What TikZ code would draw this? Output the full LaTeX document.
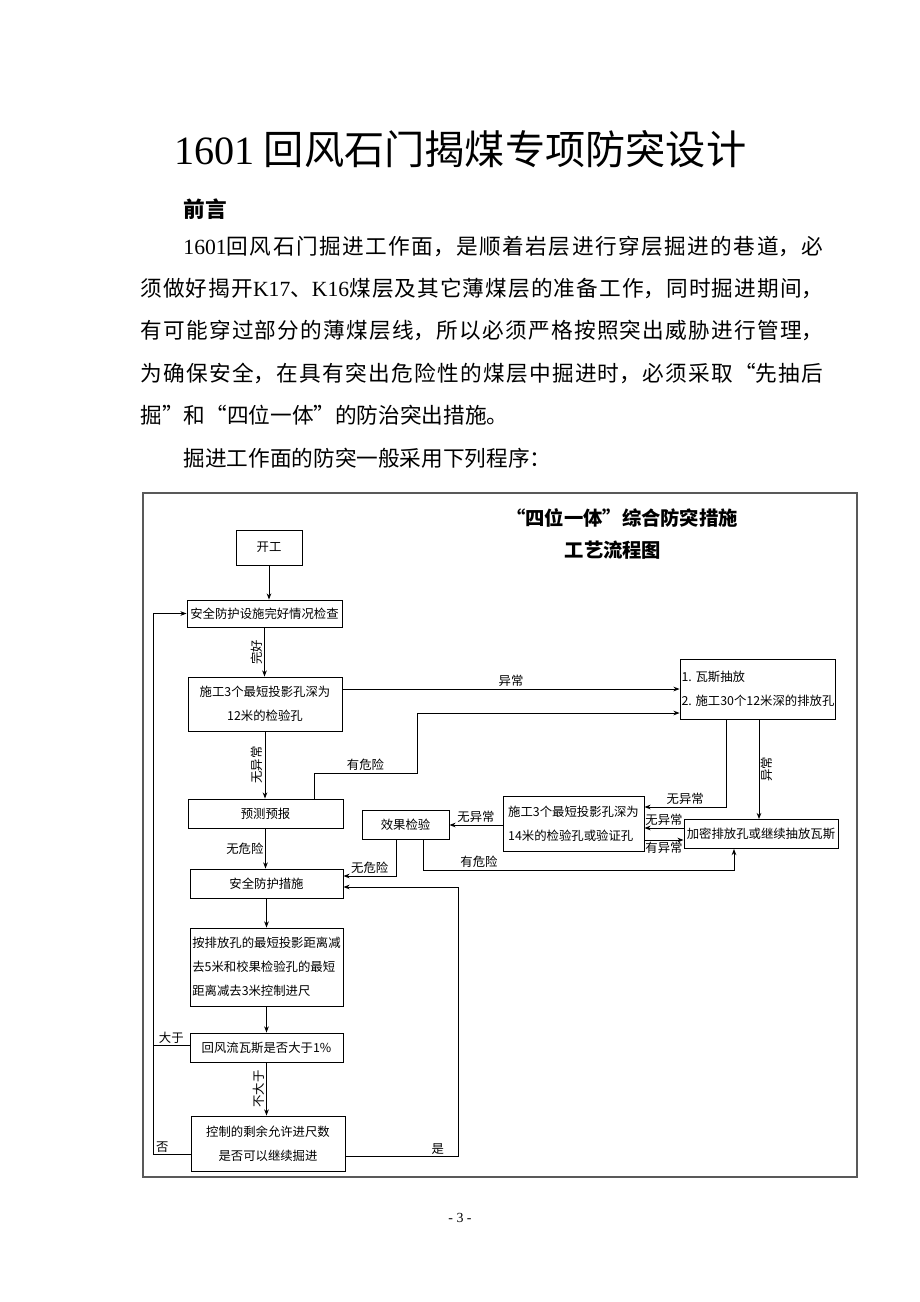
\documentclass[tikz,border=0pt]{standalone}
\usepackage{fontspec}
\setmainfont{Noto Sans CJK SC}
\newfontfamily\latin{Liberation Serif}
\usepackage{tikz}
\usetikzlibrary{arrows.meta}
\XeTeXlinebreaklocale "zh"
\XeTeXlinebreakskip=0pt plus 2pt
\newcommand\pxu{0.6467pt}

\begin{document}
\begin{tikzpicture}[x=0.6467pt, y=-0.6467pt, line width=0.6pt,
    box/.style 2 args={draw, minimum width=#1*\pxu, minimum height=#2*\pxu, inner sep=1pt, align=center, font=\fontsize{8}{15.5}\selectfont},
    lbl/.style={inner sep=1pt, font=\fontsize{8}{9}\selectfont},
    vlbl/.style={lbl, rotate=90},
    txt/.style={anchor=west, inner sep=0pt, font=\fontsize{14}{17}\selectfont},
    arr/.style={-{Stealth[length=4pt,width=3pt]}}]
    \path[fill=white] (0,0) rectangle (920,1302);
    \useasboundingbox (0,0) rectangle (920,1302);

    \node[txt, font=\fontsize{26}{30}\selectfont] (title) at (174,149) {{\latin 1601} 回风石门揭煤专项防突设计};
    \node[txt, font=\fontsize{14}{17}\selectfont\bfseries] (preface) at (183,209) {前言};
    \node[txt, text width=413.9pt, align=justify] (line1) at (183,246) {\parfillskip=0pt {\latin 1601}回风石门掘进工作面，是顺着岩层进行穿层掘进的巷道，必\par};
    \node[txt, text width=441.7pt, align=justify] (line2) at (140,288) {\parfillskip=0pt 须做好揭开{\latin K17}、{\latin K16}煤层及其它薄煤层的准备工作，同时掘进期间，\par};
    \node[txt, text width=441.7pt, align=justify] (line3) at (140,330) {\parfillskip=0pt 有可能穿过部分的薄煤层线，所以必须严格按照突出威胁进行管理，\par};
    \node[txt, text width=441.7pt, align=justify] (line4) at (140,373) {\parfillskip=0pt 为确保安全，在具有突出危险性的煤层中掘进时，必须采取“先抽后\par};
    \node[txt] (line5) at (140,415) {掘”和“四位一体”的防治突出措施。};
    \node[txt] (line6) at (183,458) {掘进工作面的防突一般采用下列程序：};

    \draw[line width=1.2pt, black!65] (143,493) rectangle (857,1177);
    \node[font=\fontsize{12.5}{15}\selectfont\bfseries] (fctitle) at (622,518) {“四位一体”综合防突措施};
    \node[font=\fontsize{12.5}{15}\selectfont\bfseries] (fcsub) at (613,550) {工艺流程图};

    \node[box={66}{35}] (start) at (269,547.5) {开工};
    \node[box={155}{27}] (check) at (264.5,613.5) {安全防护设施完好情况检查};
    \node[box={154}{54}] (hole12) at (265,704) {施工3个最短投影孔深为\\12米的检验孔};
    \node[box={155}{60}, align=left] (drain) at (758,689) {1. 瓦斯抽放\\2. 施工30个12米深的排放孔};
    \node[box={155}{29}] (predict) at (265.5,813.5) {预测预报};
    \node[box={87}{29}] (effect) at (405.5,825) {效果检验};
    \node[box={141}{55}, align=left] (hole14) at (573.5,824) {施工3个最短投影孔深为\\14米的检验孔或验证孔};
    \node[box={154}{29}] (densify) at (761,834) {加密排放孔或继续抽放瓦斯};
    \node[box={153}{29}] (measures) at (266.5,883.5) {安全防护措施};
    \node[box={153}{78}, align=left] (control) at (266.5,967) {按排放孔的最短投影距离减\\去5米和校果检验孔的最短\\距离减去3米控制进尺};
    \node[box={153}{29}] (gas) at (266.5,1047.5) {回风流瓦斯是否大于1\%};
    \node[box={154}{55}] (remain) at (268,1143.5) {控制的剩余允许进尺数\\是否可以继续掘进};

    \coordinate (riskU) at (417,773);
    \coordinate (riskR) at (734,870);
    \coordinate (loopL) at (153,1045);
    \coordinate (loopB) at (153,1154);
    \coordinate (backR) at (458,887);

    \draw[arr] (start.south) -- (start.south |- check.north);
    \draw[arr] (check.south) -- node[vlbl, anchor=south]{完好} (check.south |- hole12.north);
    \draw[arr] (hole12.east |- drain.west) -- node[lbl, above]{异常} (drain.west);
    \draw[arr] (hole12.south) -- node[vlbl, anchor=south]{无异常} (hole12.south |- predict.north);
    \draw[arr] (predict.north -| 314,0) |- node[lbl, above, pos=0.75]{有危险} (riskU) |- (drain.west |- 0,713);
    \draw[arr] (drain.south -| 726,0) |- node[lbl, above, pos=0.75]{无异常} (hole14.east |- 0,807);
    \draw[arr] (drain.south -| 759,0) -- node[vlbl, anchor=north]{异常} (densify.north -| 759,0);
    \draw[arr] (densify.west |- 0,828) -- node[lbl, above]{无异常} (hole14.east |- 0,828);
    \draw[arr] (hole14.east |- 0,840) -- node[lbl, below]{有异常} (densify.west |- 0,840);
    \draw[arr] (hole14.west |- 0,825) -- node[lbl, above]{无异常} (effect.east |- 0,825);
    \draw[arr] (effect.south -| 396,0) |- node[lbl, above, pos=0.75]{无危险} (measures.east |- 0,876);
    \draw[arr] (effect.south -| 423,0) |- node[lbl, above, pos=0.59]{有危险} (riskR) -- (riskR |- densify.south);
    \draw[arr] (predict.south) -- node[lbl, left]{无危险} (predict.south |- measures.north);
    \draw[arr] (measures.south) -- (control.north);
    \draw[arr] (control.south) -- (gas.north);
    \draw[arr] (gas.south) -- node[vlbl, anchor=south]{不大于} (gas.south |- remain.north);
    \draw[arr] (gas.west |- loopL) -- node[lbl, above]{大于} (loopL) |- (check.west);
    \draw (remain.west |- loopB) -- node[lbl, above, pos=0.75]{否} (loopB) -- (loopL);
    \draw[arr] (remain.east |- 0,1156) -| node[lbl, above, pos=0.41]{是} (backR) -- (measures.east |- backR);

    \node[font=\latin\fontsize{9}{10}\selectfont] (pageno) at (460,1218) {- 3 -};
\end{tikzpicture}
\end{document}
